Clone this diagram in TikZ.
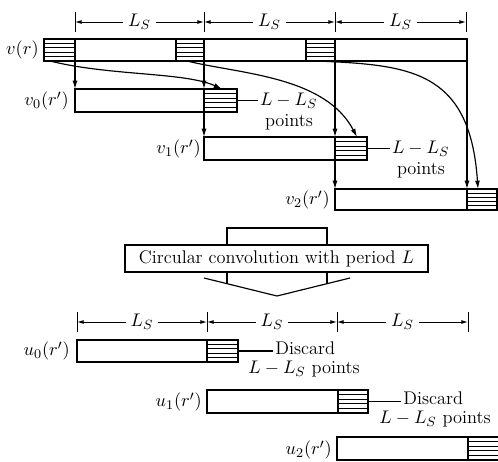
\documentclass[tikz,border=0pt]{standalone}
\usetikzlibrary{arrows.meta,calc,fit}
\begin{document}
\begin{tikzpicture}[x=0.6pt,y=-0.6pt, font=\fontsize{11}{13}\selectfont,
 box/.style={draw, line width=0.9pt, inner sep=0pt, outer sep=0pt},
 hatched/.style={box, path picture={\foreach \k in {1,2,3,4}{\draw[line width=0.6pt] ($(path picture bounding box.north west)!\k/5!(path picture bounding box.south west)$) -- ($(path picture bounding box.north east)!\k/5!(path picture bounding box.south east)$);}}},
 conn/.style={line width=0.7pt},
 arr/.style={conn, -{Latex[length=5pt,width=3pt]}},
 dimline/.style={line width=0.6pt, {Latex[length=4pt,width=2.4pt]}-{Latex[length=4pt,width=2.4pt]}},
 dimlab/.style={midway, fill=white, inner sep=3pt},
 tick/.style={line width=0.6pt}]
\useasboundingbox (0,0) rectangle (498,462);
\clip (0,0) rectangle (498,462);

% top dimensions
\coordinate (t1) at (75,22);
\coordinate (t2) at (204,22);
\coordinate (t3) at (335,22);
\coordinate (t4) at (466,22);
\foreach \t in {t1,t2,t3,t4} \draw[tick] ($(\t)+(0,-10)$) -- ($(\t)+(0,10)$);
\draw[dimline] (t1) -- (t2) node[dimlab] {$L_S$};
\draw[dimline] (t2) -- (t3) node[dimlab] {$L_S$};
\draw[dimline] (t3) -- (t4) node[dimlab] {$L_S$};

% main sequence
\node[box, fit={(44,39)(467,61)}] (m) {};
\node[hatched, fit={(44,39)(75,61)}] (h1) {};
\node[hatched, fit={(176,39)(204,61)}] (h2) {};
\node[hatched, fit={(306,39)(335,61)}] (h3) {};
\node[anchor=east, inner sep=0pt] (lv) at (39,50) {$v(r)$};

% segments
\node[box, fit={(75,89)(237,112)}] (a0) {};
\node[hatched, fit={(204,89)(237,112)}] (a0h) {};
\node[anchor=east, inner sep=0pt] (la0) at (69,101) {$v_0(r')$};
\node[box, fit={(204,137)(367,160)}] (a1) {};
\node[hatched, fit={(335,137)(367,160)}] (a1h) {};
\node[anchor=east, inner sep=0pt] (la1) at (201,149) {$v_1(r')$};
\node[box, fit={(335,189)(497,210)}] (a2) {};
\node[hatched, fit={(467,189)(497,210)}] (a2h) {};
\node[anchor=east, inner sep=0pt] (la2) at (330,200) {$v_2(r')$};

% vertical arrows
\draw[arr] (h1.south east) -- (a0.north west);
\draw[arr] (h2.south east) -- (a0h.north west);
\draw[arr] (a0h.south west) -- (a1.north west);
\draw[arr] (h3.south east) -- (a1h.north west);
\draw[arr] (a1h.south west) -- (a2.north west);
\draw[arr] (m.south east) -- (a2h.north west);

% curved arrows
\draw[arr] ($(h1.south west)+(6,0)$) .. controls (110,76) and (185,72) .. ($(a0h.north west)+(18,0)$);
\draw[arr] ($(h2.south west)+(11,0)$) .. controls (240,74) and (325,76) .. ($(a1h.north west)+(22,0)$);
\draw[arr] ($(h3.south west)+(11,0)$) .. controls (410,65) and (470,70) .. ($(a2h.north west)+(11,0)$);

% L-L_S labels
\draw[conn] (a0h.east) -- ++(21,0) coordinate (l1);
\node[anchor=west, inner sep=1pt] (n1) at (l1) {$L-L_S$};
\node[inner sep=0pt] (n1b) at (289,122) {points};
\draw[conn] (a1h.east) -- ++(23,0) coordinate (l2);
\node[anchor=west, inner sep=1pt] (n2) at (l2) {$L-L_S$};
\node[inner sep=0pt] (n2b) at (421,170) {points};

% block arrow and convolution box
\draw[conn] (227,245) -- (227,228) -- (327,228) -- (327,245);
\draw[conn] (227,272) -- (227,283.7);
\draw[conn] (327,272) -- (327,283.7);
\draw[conn] (204,278) -- (277,296) -- (350,278);
\node[box, fill=white, minimum width=181.8pt, minimum height=16.2pt] (cc) at (276.5,258.5) {Circular convolution with period $L$};

% bottom dimensions
\coordinate (s1) at (77,322);
\coordinate (s2) at (207,322);
\coordinate (s3) at (337,322);
\coordinate (s4) at (468,322);
\foreach \t in {s1,s2,s3,s4} \draw[tick] ($(\t)+(0,-10)$) -- ($(\t)+(0,10)$);
\draw[dimline] (s1) -- (s2) node[dimlab] {$L_S$};
\draw[dimline] (s2) -- (s3) node[dimlab] {$L_S$};
\draw[dimline] (s3) -- (s4) node[dimlab] {$L_S$};

% output segments
\node[box, fit={(77,340)(238,362)}] (u0) {};
\node[hatched, fit={(207,340)(238,362)}] (u0h) {};
\node[anchor=east, inner sep=0pt] (lu0) at (70,351) {$u_0(r')$};
\node[box, fit={(207,390)(368,413)}] (u1) {};
\node[hatched, fit={(338,390)(368,413)}] (u1h) {};
\node[anchor=east, inner sep=0pt] (lu1) at (202,402) {$u_1(r')$};
\node[box, fit={(337,437)(510,460)}] (u2) {};
\node[hatched, fit={(468,437)(510,460)}] (u2h) {};
\node[anchor=east, inner sep=0pt] (lu2) at (332,450) {$u_2(r')$};

% discard labels
\draw[conn] (u0h.east) -- ++(35,0) coordinate (d1);
\node[anchor=base west, inner sep=0pt] (dis1) at ($(d1)+(2,3)$) {Discard};
\node[inner sep=0pt] (dp1) at (304,369.5) {$L-L_S$ points};
\draw[conn] (u1h.east) -- ++(33,0) coordinate (d2);
\node[anchor=base west, inner sep=0pt] (dis2) at ($(d2)+(2,3)$) {Discard};
\node[inner sep=0pt] (dp2) at (435,419.5) {$L-L_S$ points};
\end{tikzpicture}
\end{document}
